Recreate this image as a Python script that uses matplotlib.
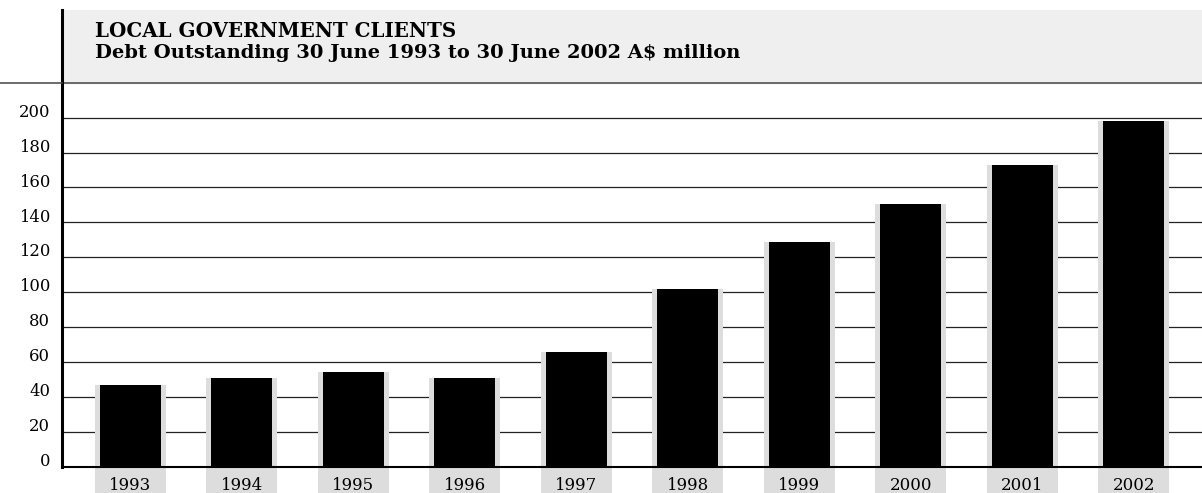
import matplotlib
matplotlib.use("Agg")
import matplotlib.pyplot as plt
import matplotlib.transforms as mtransforms
from matplotlib.lines import Line2D
import numpy as np

years = ['1993', '1994', '1995', '1996', '1997', '1998', '1999', '2000', '2001', '2002']
debt = [47, 51, 54, 51, 65.5, 102, 129, 150.5, 173, 198]
yticks = list(range(0, 201, 20))

title = 'LOCAL GOVERNMENT CLIENTS'
subtitle = 'Debt Outstanding 30 June 1993 to 30 June 2002 A$ million'

W, H = 1202, 493
x0, y_base, y_top = 62, 466.7, 10
px_per_unit = 1.745
pitch = 111.5
first_center = 130.3

plt.rcParams['font.family'] = ['DejaVu Serif']

fig = plt.figure(figsize=(W / 100, H / 100), dpi=100)
ax = fig.add_axes([x0 / W, (H - y_base) / H, (W - x0) / W, (y_base - y_top) / H])

ymax = (y_base - y_top) / px_per_unit
ax.set_ylim(0, ymax)
xl = -(first_center - x0) / pitch
ax.set_xlim(xl, xl + (W - x0) / pitch)

x = np.arange(len(years))
below = (H - y_base) / px_per_unit

# grid lines
for v in yticks[1:]:
    ax.axhline(v, color='#222222', lw=0.9, zorder=1)

# grey columns behind bars, running down under the year labels
ax.bar(x, np.array(debt) + below, bottom=-below, width=0.634,
       color='#dddddd', zorder=1.5, clip_on=False)
ax.bar(x, debt, width=0.55, color='black', zorder=2)

# header band
header_y = (y_base - 83) / px_per_unit
ax.axhspan(header_y, ymax, color='#efefef', zorder=0)
ax.axhline(header_y, color='#444444', lw=1.1, zorder=2)
fig.add_artist(Line2D([0, x0 / W], [(H - 83) / H] * 2, transform=fig.transFigure,
                      color='#444444', lw=1.1))

for s in ['top', 'right']:
    ax.spines[s].set_visible(False)
ax.spines['left'].set_linewidth(2.2)
ax.spines['bottom'].set_linewidth(1.5)
ax.set_xticks([])
ax.set_yticks([])

trans = mtransforms.blended_transform_factory(ax.transAxes, ax.transData)
for v in yticks:
    ax.text(-12 / (W - x0), v + 0.5, str(v), transform=trans, ha='right',
            va='baseline', fontsize=11.8)

for i, yr in enumerate(years):
    ax.text(i, -13.6, yr, ha='center', va='baseline', fontsize=12, clip_on=False)

fig.text(95 / W, (H - 37.3) / H, title, fontsize=14.3, weight='bold', va='baseline')
fig.text(95 / W, (H - 58) / H, subtitle, fontsize=14, weight='bold', va='baseline')

fig.savefig('out.png', dpi=100)
